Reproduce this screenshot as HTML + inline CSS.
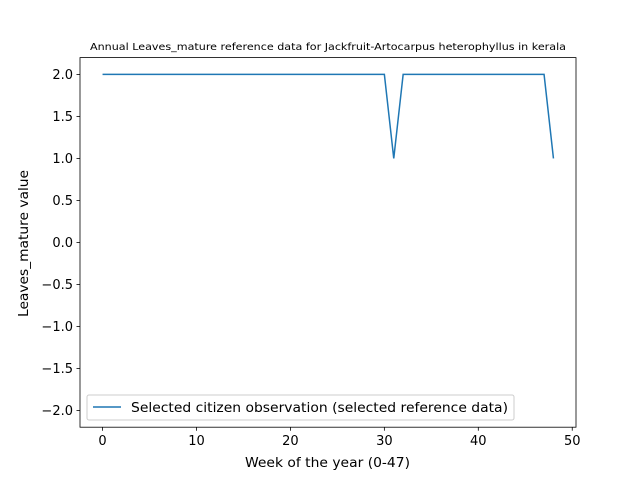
<!DOCTYPE html>
<html><head><meta charset="utf-8"><style>
body{margin:0;background:#fff;font-family:"Liberation Sans","DejaVu Sans",sans-serif}
svg text{font-family:"DejaVu Sans","Liberation Sans",sans-serif}
</style></head><body>
<svg id="chart" width="640" height="480" xmlns="http://www.w3.org/2000/svg">
<rect width="640" height="480" fill="#fff"/>
<text x="90" y="50" font-size="9.6" textLength="476" lengthAdjust="spacingAndGlyphs">Annual Leaves_mature reference data for Jackfruit-Artocarpus heterophyllus in kerala</text>
<g id="ticks"></g>
<polyline id="series" fill="none" stroke="#1f77b4" stroke-width="1.5"/>
<rect x="80" y="57.6" width="496" height="369.6" fill="none" stroke="#000" stroke-width="0.8"/>
<text x="245" y="467" font-size="13" textLength="165" lengthAdjust="spacingAndGlyphs">Week of the year (0-47)</text>
<text transform="translate(28,317) rotate(-90)" font-size="13" textLength="147" lengthAdjust="spacingAndGlyphs">Leaves_mature value</text>
<g>
<rect x="87" y="395" width="427" height="25" fill="#fff" stroke="#ccc" rx="2"/>
<line x1="93" y1="407" x2="121" y2="407" stroke="#1f77b4" stroke-width="1.5"/>
<text x="131" y="412" font-size="13" textLength="377" lengthAdjust="spacingAndGlyphs">Selected citizen observation (selected reference data)</text>
</g>
</svg>
<script>
const weeks=[];for(let i=0;i<=48;i++)weeks.push(i);
const values=[2,2,2,2,2,2,2,2,2,2,2,2,2,2,2,2,2,2,2,2,2,2,2,2,2,2,2,2,2,2,2,1,2,2,2,2,2,2,2,2,2,2,2,2,2,2,2,2,1];
const xTicks=[0,10,20,30,40,50];
const yTicks=[-2.0,-1.5,-1.0,-0.5,0.0,0.5,1.0,1.5,2.0];
const X=v=>80+(v+2.4)/52.8*496;
const Y=v=>57.6+(2.2-v)/4.4*369.6;
const ns="http://www.w3.org/2000/svg";
const g=document.getElementById('ticks');
function mk(t,a){const e=document.createElementNS(ns,t);for(const k in a)e.setAttribute(k,a[k]);g.appendChild(e);return e;}
xTicks.forEach(v=>{
 const l=mk('line',{x1:X(v),x2:X(v),y1:427.2,y2:430.7,stroke:'#000','stroke-width':0.8});
 
 
 const t=mk('text',{x:X(v),y:445,'font-size':13,'text-anchor':'middle'});t.textContent=v;
 
 
});
yTicks.forEach(v=>{
 const l=mk('line',{x1:76.5,x2:80,y1:Y(v),y2:Y(v),stroke:'#000','stroke-width':0.8});
 
 
 const t=mk('text',{x:73,y:Y(v)+4.5,'font-size':13,'text-anchor':'end'});t.textContent=(v<0?'\u2212':'')+Math.abs(v).toFixed(1);
 
 
});
document.getElementById('series').setAttribute('points',weeks.map((w,i)=>X(w)+','+Y(values[i])).join(' '));
</script>
</body></html>
